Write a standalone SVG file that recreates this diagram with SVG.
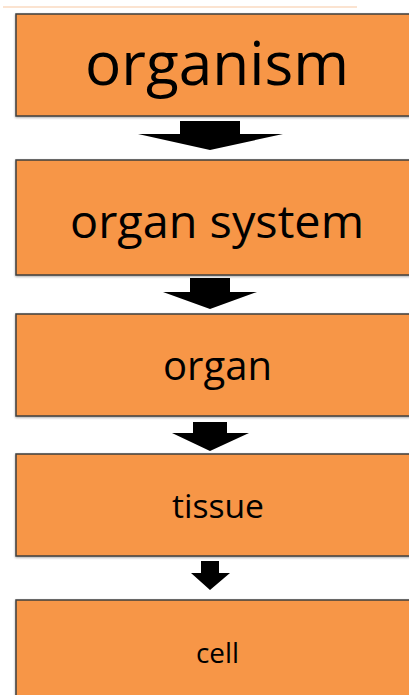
<svg xmlns="http://www.w3.org/2000/svg" width="409" height="695" viewBox="0 0 409 695">
  <defs>
    <style>
      .box { fill: #F79646; stroke: #3F3F3F; stroke-width: 1.5; }
      .lbl { font-family: "Open Sans", "Noto Sans", "DejaVu Sans", sans-serif; fill: #000000; text-anchor: middle; }
      .arrow { fill: #000000; }
    </style>
    <filter id="sh" x="-10%" y="-10%" width="120%" height="130%">
      <feDropShadow dx="0" dy="1" stdDeviation="1" flood-color="#000000" flood-opacity="0.35"/>
    </filter>
  </defs>
  <rect x="0" y="0" width="409" height="695" fill="#FFFFFF"/>
  <line x1="3" y1="7" x2="357" y2="7" stroke="#FBE3D0" stroke-width="2"/>

  <g id="organism">
    <rect class="box" x="16" y="14" width="420" height="102" filter="url(#sh)"/>
    <text class="lbl" x="217" y="85" font-size="60" textLength="264" lengthAdjust="spacingAndGlyphs">organism</text>
  </g>
  <g id="organ-system">
    <rect class="box" x="16" y="160" width="420" height="115" filter="url(#sh)"/>
    <text class="lbl" x="217" y="238" font-size="46" textLength="294" lengthAdjust="spacingAndGlyphs">organ system</text>
  </g>
  <g id="organ">
    <rect class="box" x="16" y="314" width="420" height="102" filter="url(#sh)"/>
    <text class="lbl" x="217.5" y="380" font-size="40" textLength="109" lengthAdjust="spacingAndGlyphs">organ</text>
  </g>
  <g id="tissue">
    <rect class="box" x="16" y="454" width="420" height="102" filter="url(#sh)"/>
    <text class="lbl" x="218" y="518" font-size="33" textLength="92" lengthAdjust="spacingAndGlyphs">tissue</text>
  </g>
  <g id="cell">
    <rect class="box" x="16" y="600" width="420" height="130" filter="url(#sh)"/>
    <text class="lbl" x="217.5" y="663" font-size="28" textLength="43" lengthAdjust="spacingAndGlyphs">cell</text>
  </g>

  <g id="connectors">
    <polygon class="arrow" points="180,121 240,121 240,134 283,134 210,150 138,134 180,134"/>
    <polygon class="arrow" points="190,278 230,278 230,292 257,292 210,309 163,292 190,292"/>
    <polygon class="arrow" points="193,422 227,422 227,433 249,433 210,451 172,433 193,433"/>
    <polygon class="arrow" points="201,561 219,561 219,573 230,573 210,590 191,573 201,573"/>
  </g>
</svg>
